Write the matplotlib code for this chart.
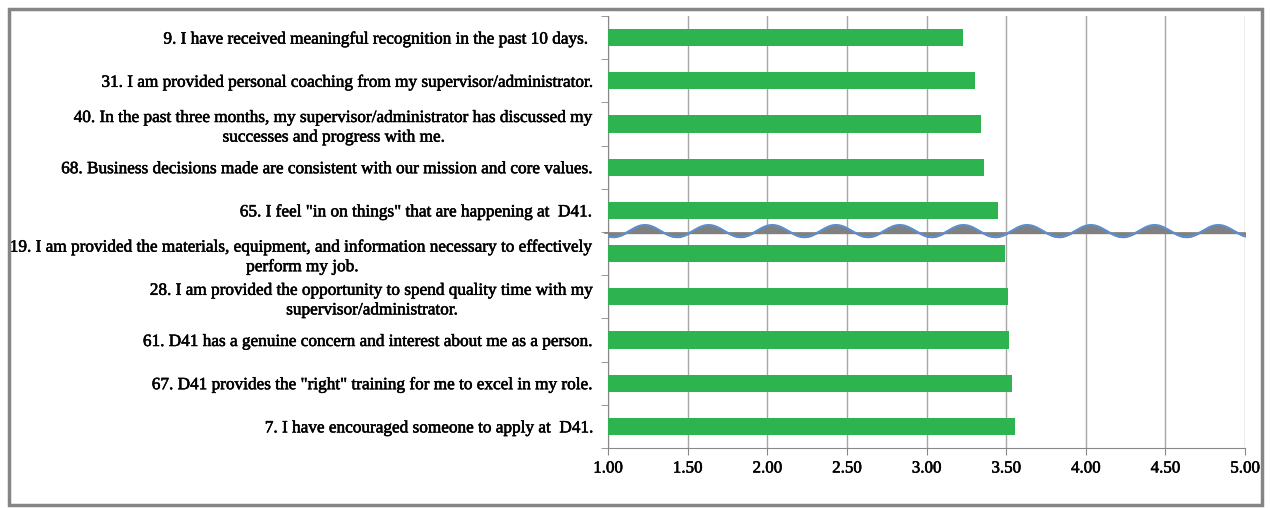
import numpy as np
import matplotlib.pyplot as plt
import matplotlib.patheffects as pe
from matplotlib.patches import Rectangle

# survey items, top to bottom
labels = [
    "9. I have received meaningful recognition in the past 10 days. ",
    "31. I am provided personal coaching from my supervisor/administrator.",
    "40. In the past three months, my supervisor/administrator has discussed my\nsuccesses and progress with me.",
    "68. Business decisions made are consistent with our mission and core values.",
    "65. I feel \"in on things\" that are happening at  D41.",
    "19. I am provided the materials, equipment, and information necessary to effectively\nperform my job.",
    "28. I am provided the opportunity to spend quality time with my\nsupervisor/administrator.",
    "61. D41 has a genuine concern and interest about me as a person.",
    "67. D41 provides the \"right\" training for me to excel in my role.",
    "7. I have encouraged someone to apply at  D41.",
]
scores = [3.23, 3.305, 3.34, 3.36, 3.45, 3.49, 3.51, 3.52, 3.54, 3.555]
xticks = [1.0, 1.5, 2.0, 2.5, 3.0, 3.5, 4.0, 4.5, 5.0]

plt.rcParams['font.family'] = ['Liberation Serif', 'DejaVu Serif']

fig = plt.figure(figsize=(12.7, 5.08), dpi=100)
ax = fig.add_axes([608 / 1270, 1 - 448 / 508, 637 / 1270, 432 / 508])

y = np.arange(len(labels))
ax.barh(y, np.array(scores) - 1.0, left=1.0, height=0.4, color='#2db34f', zorder=3)

thick = [pe.withStroke(linewidth=0.4, foreground='black')]

ax.set_xlim(1.0, 5.0)
ax.set_ylim(len(labels) - 0.5, -0.5)
ax.set_xticks(xticks)
ax.set_xticklabels([f"{v:.2f}" for v in xticks], fontsize=12.2, path_effects=thick)
ax.set_yticks(y)
ax.set_yticklabels(labels, fontsize=12.4, multialignment='center', linespacing=1.3,
                   path_effects=thick)
ax.set_yticks(np.arange(len(labels) + 1) - 0.5, minor=True)
ax.tick_params(axis='y', which='major', length=0, pad=9.5)
ax.tick_params(axis='y', which='minor', length=5, color='#888888', direction='out')
ax.tick_params(axis='x', length=5, color='#888888', direction='out', pad=4)
ax.grid(axis='x', color='#a6a6a6', linewidth=1.0, zorder=0)

for side in ['top', 'right']:
    ax.spines[side].set_visible(False)
for side in ['left', 'bottom']:
    ax.spines[side].set_color('#888888')

# decorative wave break between items 5 and 6
wx = np.linspace(0, 1, 600)
wy = 0.5023 + 0.0139 * np.cos(2 * np.pi * (wx - 0.058) / 0.1)
base = 0.4977
ax.fill_between(wx, wy, base, color='#808080', transform=ax.transAxes, zorder=4)
ax.plot([-0.005, 1.0], [base, base], color='#808080', linewidth=1.2,
        transform=ax.transAxes, zorder=4, clip_on=False)
ax.plot(wx, wy, color='#5b8fd0', linewidth=1.5, transform=ax.transAxes, zorder=5)

# outer frame
fig.patches.append(Rectangle((9 / 1270, 1 - 505 / 508), 1253 / 1270, 496 / 508,
                             transform=fig.transFigure, fill=False,
                             edgecolor='#858585', linewidth=2.5))

fig.savefig('out.png', dpi=100)
